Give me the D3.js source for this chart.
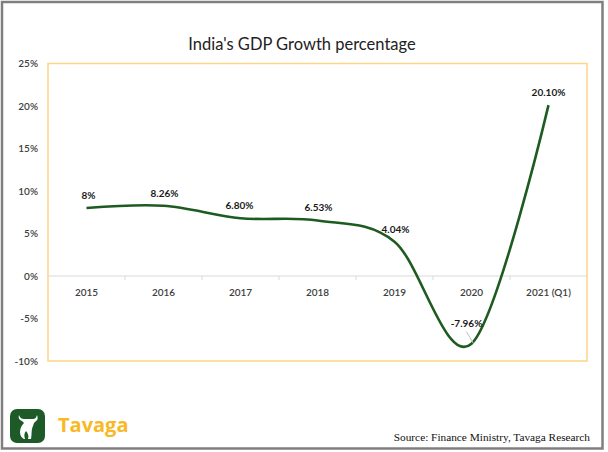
<!DOCTYPE html>
<html><head><meta charset="utf-8">
<script src="https://cdn.jsdelivr.net/npm/d3@7"></script>
<style>body{margin:0;background:#fff}svg{display:block}</style>
</head><body>
<svg id="c" width="608" height="452"></svg>
<script>
const years = ["2015","2016","2017","2018","2019","2020","2021 (Q1)"];
const growth = [8, 8.26, 6.80, 6.53, 4.04, -7.96, 20.10];
const valueLabels = ["8%","8.26%","6.80%","6.53%","4.04%","-7.96%","20.10%"];
const yTicks = [25, 20, 15, 10, 5, 0, -5, -10];
const title = "India's GDP Growth percentage";
const source = "Source: Finance Ministry, Tavaga Research";
const brand = "Tavaga";

const svg = d3.select("#c");
const L = 48, R = 587, T = 63.5, B = 361;
const x = d3.scaleBand().domain(years).range([L, R]);
const y = d3.scaleLinear().domain([-10, 25]).range([B, T]);
const font = "Lato, 'Open Sans', sans-serif";

// outer frame
svg.append("rect").attr("x",2).attr("y",2).attr("width",600.5).attr("height",446.5)
  .attr("fill","none").attr("stroke","#7f7f7f").attr("stroke-width",2.5);

// title
svg.append("text").attr("x",302).attr("y",50).attr("text-anchor","middle")
  .attr("font-family",font).attr("font-size",16.5).attr("fill","#222").text(title);

// plot border
svg.append("rect").attr("x",L).attr("y",T).attr("width",R-L).attr("height",B-T)
  .attr("fill","none").attr("stroke","#fdd587").attr("stroke-width",1.5);

// y axis labels
svg.append("g").selectAll("text").data(yTicks).join("text")
  .attr("x",38).attr("y",d=>y(d)+3.5).attr("text-anchor","end")
  .attr("font-family",font).attr("font-size",10).attr("font-weight",600).attr("fill","#404040")
  .text(d=>d+"%");

// zero line + ticks
svg.append("line").attr("x1",L-1).attr("x2",R).attr("y1",y(0)).attr("y2",y(0))
  .attr("stroke","#d9d9d9").attr("stroke-width",1.2);
svg.append("g").selectAll("line").data(years.slice(1)).join("line")
  .attr("x1",d=>x(d)).attr("x2",d=>x(d)).attr("y1",y(0)).attr("y2",y(0)+4)
  .attr("stroke","#d9d9d9").attr("stroke-width",1);

// x labels
svg.append("g").selectAll("text").data(years).join("text")
  .attr("x",d=>x(d)+x.bandwidth()/2).attr("y",y(0)+20).attr("text-anchor","middle")
  .attr("font-family",font).attr("font-size",10).attr("font-weight",600).attr("fill","#404040")
  .text(d=>d);

// line
const pts = years.map((d,i)=>[x(d)+x.bandwidth()/2, y(growth[i])]);
svg.append("path").attr("d", d3.line().curve(d3.curveCardinal.tension(0))(pts))
  .attr("fill","none").attr("stroke","#1e5b20").attr("stroke-width",2.6);

// data labels
const dxs = [2,1,-1,1,1,-5,0];
svg.append("g").selectAll("text").data(years).join("text")
  .attr("x",(d,i)=>x(d)+x.bandwidth()/2+dxs[i])
  .attr("y",(d,i)=> i===5 ? y(growth[i])-17 : y(growth[i])-9)
  .attr("text-anchor","middle").attr("font-family",font).attr("font-size",10)
  .attr("font-weight",700).attr("fill","#1a1a1a").text((d,i)=>valueLabels[i]);

// leader line for -7.96%
const p5 = pts[5];
svg.append("line").attr("x1",p5[0]-5).attr("y1",p5[1]-12).attr("x2",p5[0]+2).attr("y2",p5[1])
  .attr("stroke","#bfbfbf").attr("stroke-width",1);

// logo
const lg = svg.append("g").attr("transform","translate(10,409)");
lg.append("rect").attr("width",35).attr("height",34).attr("rx",7).attr("fill","#1d5a27");
lg.append("path").attr("fill","#fff")
  .attr("d","M9 6 C8 9 9 11 12 12 L14 14 C12 16 10 19 10 23 C10 27 12 29 14 30 L15 30 C14 27 14 24 16 22 C18 24 19 27 18 30 L21 30 C22 26 21 21 23 17 L24 14 L26 12 C28 11 28 8 27 6 C26 9 25 10 23 10 L14 10 C12 10 10 9 9 6 Z");
svg.append("text").attr("x",58).attr("y",432).attr("font-family","'Open Sans', Lato, sans-serif")
  .attr("font-size",20).attr("font-weight",700).attr("fill","#f9b825").text(brand);

// source
svg.append("text").attr("x",590).attr("y",441).attr("text-anchor","end")
  .attr("font-family","'Liberation Serif', 'Times New Roman', serif").attr("font-size",11.3)
  .attr("fill","#111").text(source);
</script>
</body></html>
